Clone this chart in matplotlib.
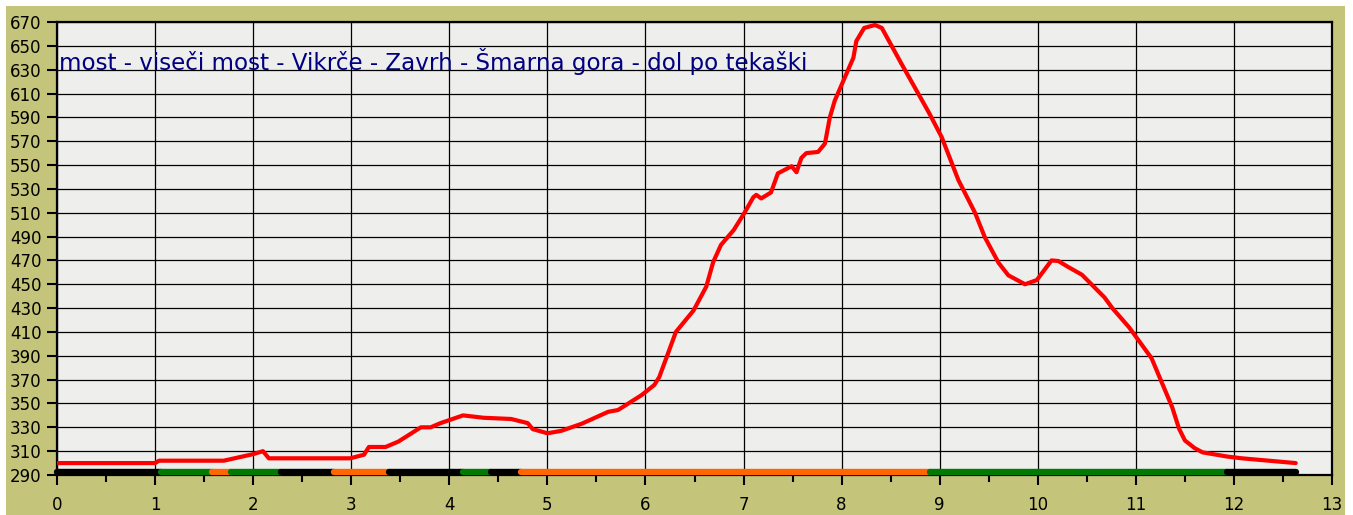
#!/usr/bin/env python
"""Elevation profile: most - viseci most - Vikrce - Zavrh - Smarna gora - dol po tekaski."""

import matplotlib

matplotlib.use("Agg")
import matplotlib.pyplot as plt  # noqa: E402
from matplotlib.patches import Rectangle  # noqa: E402

TITLE = "most - viseči most - Vikrče - Zavrh - Šmarna gora - dol po tekaški"

# distance along the route (km) and elevation (m)
DIST = [0, 1.00, 1.04, 1.70, 2.00, 2.10, 2.16, 2.99, 3.13, 3.18, 3.35, 3.48, 3.71,
        3.81, 3.91, 4.14, 4.35, 4.63, 4.80, 4.85, 5.00, 5.14, 5.35, 5.62, 5.72,
        5.96, 6.09, 6.14, 6.23, 6.31, 6.49, 6.62, 6.69, 6.77, 6.90, 7.01, 7.10,
        7.13, 7.18, 7.28, 7.35, 7.49, 7.54, 7.59, 7.64, 7.76, 7.83, 7.88, 7.93,
        8.03, 8.12, 8.15, 8.23, 8.34, 8.41, 8.61, 8.89, 9.02, 9.19, 9.36, 9.46,
        9.60, 9.70, 9.87, 9.99, 10.14, 10.21, 10.31, 10.45, 10.68, 10.76, 10.93,
        11.16, 11.37, 11.44, 11.50, 11.60, 11.68, 11.93, 12.08, 12.63]
ELEV = [300, 300, 302, 302, 307.5, 310, 304, 304, 307, 313.5, 313.5, 318, 330,
        330, 333.5, 340, 338, 337, 333.5, 328.5, 325, 327, 333, 343, 344.5,
        357, 365.5, 372, 392, 410, 428, 448, 468.5, 483, 495.5, 510, 523,
        525, 522, 527, 543, 549, 544, 556, 560, 561, 568, 590, 604,
        623, 640, 654, 665, 667.5, 665, 635, 594, 573.5, 537.5, 510, 489.5,
        468, 457.5, 450, 453.5, 470, 469.5, 464.5, 458, 439, 430, 414,
        388, 347, 329, 319, 312.5, 309, 305.5, 304, 300]

# surface type strip along the bottom
SEG_EDGES = [0, 1.06, 1.58, 1.77, 2.28, 2.82, 3.38, 4.14, 4.42, 4.73, 8.90, 11.93, 12.63]
SEG_COLORS = ["black", "green", "orange", "green", "black", "orange", "black",
              "green", "black", "orange", "green", "black"]
COLOR_MAP = {"black": "#000000", "green": "#007a00", "orange": "#ff6600"}

X_TICKS = list(range(0, 14))
Y_TICKS = list(range(290, 671, 20))

OLIVE = "#c4c47a"
PLOT_BG = "#eeeeec"


def main() -> None:
    fig = plt.figure(figsize=(13.53, 5.15), dpi=100, facecolor="white")
    fig.patches.append(Rectangle((6 / 1353, 0), (1345 - 6) / 1353, 509 / 515,
                                 transform=fig.transFigure, facecolor=OLIVE,
                                 edgecolor="none", zorder=-10))
    ax = fig.add_axes([57 / 1353, 40 / 515, 1275 / 1353, 453 / 515])
    ax.set_zorder(1)
    ax.set_facecolor(PLOT_BG)

    ax.set_xlim(0, 13)
    ax.set_ylim(290, 670)
    ax.set_xticks(X_TICKS)
    ax.set_xticks([x + 0.5 for x in X_TICKS[:-1]], minor=True)
    ax.set_yticks(Y_TICKS)
    ax.grid(True, which="major", color="black", linewidth=0.9)
    ax.tick_params(axis="both", which="major", direction="out", length=7, width=1.5,
                   labelsize=12, colors="black")
    ax.tick_params(axis="x", which="major", pad=8)
    ax.tick_params(axis="x", which="minor", direction="out", length=5, width=1.5)
    ax.tick_params(axis="y", which="major", pad=4)
    for s in ax.spines.values():
        s.set_linewidth(1.6)
        s.set_color("black")

    # surface strip
    for i, c in enumerate(SEG_COLORS):
        ax.plot([SEG_EDGES[i], SEG_EDGES[i + 1]], [292.6, 292.6], color=COLOR_MAP[c],
                linewidth=4.6, solid_capstyle="round", zorder=3, clip_on=False)

    ax.plot(DIST, ELEV, color="#ff0000", linewidth=3, solid_joinstyle="round",
            solid_capstyle="round", zorder=4)

    ax.text(0.02, 630, TITLE, color="#000080", fontsize=16.6,
            ha="left", va="baseline", zorder=5)

    fig.savefig("out.png", dpi=100, facecolor="white")
    plt.close(fig)


if __name__ == "__main__":
    main()
